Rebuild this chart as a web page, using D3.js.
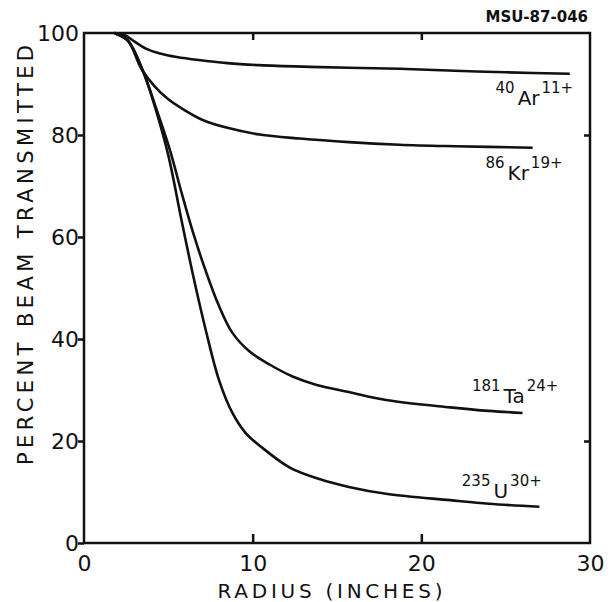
<!DOCTYPE html>
<meta charset="utf-8">
<style type="text/css">
body { margin: 0; background: #fff; }
text { font-family: "DejaVu Sans", sans-serif; fill: #111; }
.frame { fill: none; stroke: #111; stroke-width: 2.5; }
.line { fill: none; stroke: #111; stroke-width: 2.6; }
.axis path { display: none; }
.axis line { stroke: #111; stroke-width: 2.5; }
</style>
<body>
</body>
<script src="https://cdnjs.cloudflare.com/ajax/libs/d3/7.8.5/d3.min.js"></script>
<script>

// radius (inches) and percent transmitted
var arX = [1.8, 2.4, 3.0, 3.7, 4.5, 5.5, 6.8, 8.5, 10.4, 13, 15.7, 18.7, 22, 25, 28.8];
var arY = [100, 99.6, 98.3, 96.9, 96, 95.3, 94.7, 94.1, 93.7, 93.4, 93.2, 93.0, 92.6, 92.3, 92.0];
var krX = [1.8, 2.6, 3.4, 4.2, 5.0, 6.0, 7.0, 8.5, 10.4, 12.8, 15.7, 18.7, 22, 26.6];
var krY = [100, 98.5, 93, 89.5, 87, 84.8, 83, 81.4, 80.1, 79.3, 78.6, 78.1, 77.8, 77.5];
var taX = [1.8, 2.6, 3.5, 4.3, 5.1, 5.8, 6.5, 7.2, 8.0, 8.8, 9.8, 11, 12.4, 13.8, 15.7, 18, 21.7, 24, 26];
var taY = [100, 98.5, 92.5, 85, 77, 68.5, 60.5, 53.5, 46.5, 41.2, 37.6, 35, 32.6, 31, 29.6, 28, 26.6, 25.9, 25.5];
var uX = [1.8, 2.6, 3.5, 4.3, 5.0, 5.8, 6.5, 7.2, 8.0, 8.8, 9.6, 10.6, 12.2, 14, 15.7, 18, 21.7, 24, 27];
var uY = [100, 98.5, 92.5, 84.5, 76, 63, 52, 42, 32, 25.5, 21.5, 18.6, 14.8, 12.5, 11, 9.6, 8.4, 7.7, 7.1];

var mass = ["40", "86", "181", "235"];
var element = ["Ar", "Kr", "Ta", "U"];
var charge = ["11+", "19+", "24+", "30+"];
// where each label starts, in data units
var labelX = [24.4, 23.8, 23.0, 22.4];
var labelY = [85.9, 71.2, 27.5, 8.8];

var xTicks = [0, 10, 20, 30];
var yTicks = [0, 20, 40, 60, 80, 100];

var margin = {top: 33, right: 22, bottom: 59, left: 84};
var width = 612 - margin.left - margin.right;
var height = 602 - margin.top - margin.bottom;

var svg = d3.select("body").append("svg")
    .attr("width", 612)
    .attr("height", 602);

var g = svg.append("g")
    .attr("transform", "translate(" + margin.left + "," + margin.top + ")");

var xScale = d3.scaleLinear().domain([0, 30]).range([0, width]);
var yScale = d3.scaleLinear().domain([0, 100]).range([height, 0]);

// frame
g.append("rect").attr("class", "frame")
    .attr("x", 0).attr("y", 0).attr("width", width).attr("height", height);

// bottom axis: ticks point inward
var xAxis = d3.axisBottom(xScale).tickValues(xTicks).tickSizeInner(-9).tickSizeOuter(0)
    .tickPadding(12).tickFormat(d3.format("d"));
var gx = g.append("g").attr("class", "axis").attr("transform", "translate(0," + height + ")").call(xAxis);
gx.selectAll("text").style("font-size", "22px");
gx.selectAll(".tick").filter(function(d) { return d == 0 || d == 30; }).select("line").remove();

// top axis ticks
var xTop = d3.axisTop(xScale).tickValues([10, 20]).tickSizeInner(-7).tickSizeOuter(0).tickFormat("");
g.append("g").attr("class", "axis").call(xTop);

// left axis: ticks point outward
var yAxis = d3.axisLeft(yScale).tickValues(yTicks).tickSizeInner(6).tickSizeOuter(0)
    .tickPadding(-1).tickFormat(d3.format("d"));
var gy = g.append("g").attr("class", "axis").call(yAxis);
gy.selectAll("text").style("font-size", "22px");
gy.selectAll(".tick").filter(function(d) { return d == 100; }).select("line").remove();

// right axis ticks
var yRight = d3.axisRight(yScale).tickValues([20, 80]).tickSizeInner(-6).tickSizeOuter(0).tickFormat("");
g.append("g").attr("class", "axis").attr("transform", "translate(" + width + ",0)").call(yRight);

// curves
var series = [[arX, arY], [krX, krY], [taX, taY], [uX, uY]];
var line = d3.line()
    .x(function(d) { return xScale(d[0]); })
    .y(function(d) { return yScale(d[1]); })
    .curve(d3.curveCatmullRom.alpha(0.5));

for (var i = 0; i < series.length; i++) {
    var pts = series[i][0].map(function(x, j) { return [x, series[i][1][j]]; });
    g.append("path").datum(pts).attr("class", "line").attr("d", line);

    var t = g.append("text")
        .attr("x", xScale(labelX[i]))
        .attr("y", yScale(labelY[i]))
        .style("font-size", "20px");
    t.append("tspan").attr("dy", -12).style("font-size", "15px").text(mass[i]);
    t.append("tspan").attr("dy", 12).attr("dx", 3).text(element[i]);
    t.append("tspan").attr("dy", -12).attr("dx", 2).style("font-size", "15px").text(charge[i]);
}

// axis titles
svg.append("text")
    .attr("x", margin.left + width / 2 - 7)
    .attr("y", 598)
    .attr("text-anchor", "middle")
    .attr("textLength", 225)
    .style("font-size", "20px")
    .text("RADIUS (INCHES)");

svg.append("text")
    .attr("transform", "translate(33," + 255 + ") rotate(-90)")
    .attr("text-anchor", "middle")
    .attr("textLength", 420)
    .style("font-size", "21px")
    .text("PERCENT BEAM TRANSMITTED");

svg.append("text")
    .attr("x", 588)
    .attr("y", 22)
    .attr("text-anchor", "end")
    .style("font-size", "15px")
    .style("font-weight", "bold")
    .text("MSU-87-046");

</script>
